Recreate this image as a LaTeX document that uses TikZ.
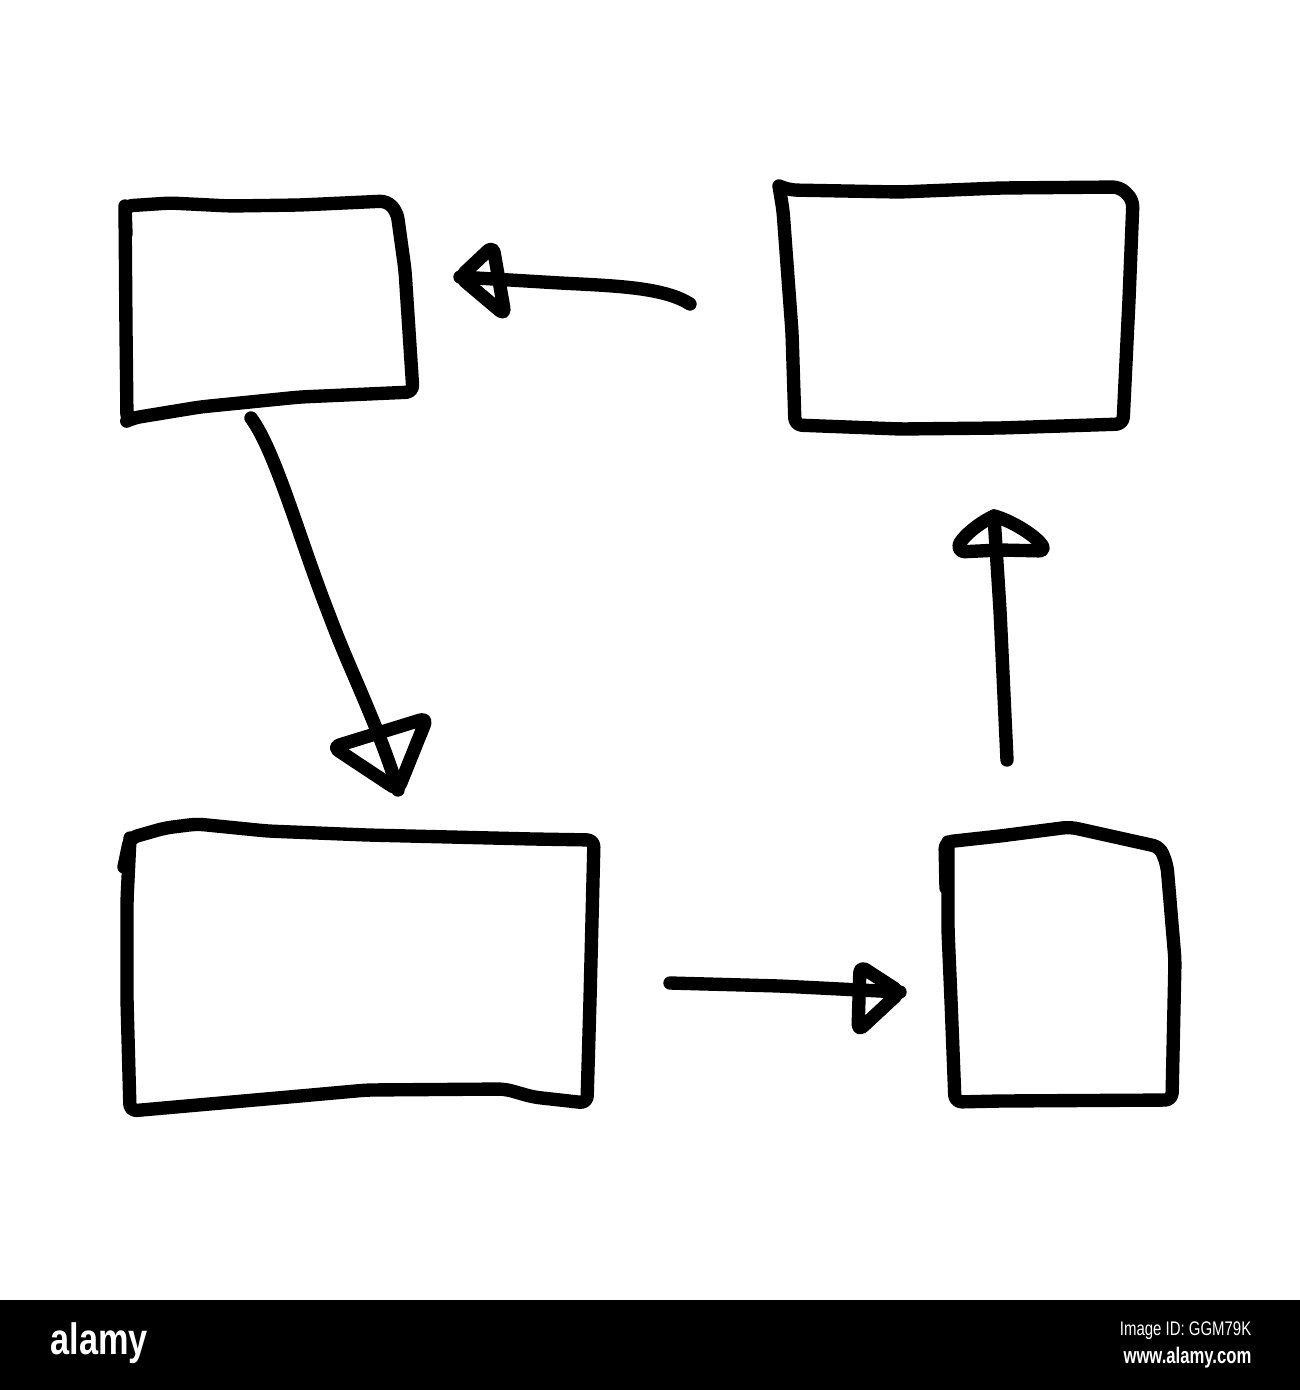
\documentclass[tikz,border=0pt]{standalone}
\usepackage{fontspec}
\newfontfamily\logofont{Liberation Sans}
\usepackage{tikz}
\usetikzlibrary{calc}

\begin{document}
\begin{tikzpicture}[x=0.01cm, y=-0.01cm,
    sketch/.style={line width=3.8pt, line cap=round, line join=round, rounded corners=2pt},
    tag/.style={white, inner sep=0pt, anchor=east}]
    \useasboundingbox (0, 0) rectangle (1300, 1390);

    % boxes
    \draw[sketch] (126, 234) -- (125, 206) -- (170, 203) -- (230, 206) -- (300, 205) -- (387, 201) -- (397, 212) -- (405, 270) -- (413, 392) -- (300, 397) -- (200, 407) -- (133, 418) -- (127, 421) -- (126, 330) -- (125, 206);
    \draw[sketch] (779, 186) -- (790, 190) -- (900, 192) -- (1000, 188) -- (1120, 187) -- (1133, 200) -- (1129, 300) -- (1123, 424) -- (1000, 428) -- (900, 429) -- (795, 425) -- (792, 332) -- (783, 210) -- (779, 186);
    \draw[sketch] (124, 867) -- (130, 838) -- (165, 828) -- (197, 824) -- (267, 831) -- (367, 835) -- (533, 839) -- (594, 840) -- (590, 1000) -- (587, 1103) -- (533, 1097) -- (505, 1089) -- (367, 1090) -- (300, 1096) -- (130, 1111) -- (127, 1000) -- (127, 900) -- (130, 838);
    \draw[sketch] (946, 888) -- (945, 842) -- (1000, 836) -- (1070, 827) -- (1160, 847) -- (1167, 865) -- (1175, 960) -- (1172, 1100) -- (1000, 1101) -- (955, 1102) -- (951, 1000) -- (948, 930) -- (948, 842);

    % arrow ends
    \coordinate (trOut) at (690, 304);
    \coordinate (tlIn) at (460, 277);
    \coordinate (tlOut) at (251, 418);
    \coordinate (blIn) at (398, 790);
    \coordinate (blOut) at (670, 983);
    \coordinate (brIn) at (900, 992);
    \coordinate (brOut) at (1007, 760);
    \coordinate (trIn) at (994, 516);

    % arrows
    \draw[sketch] (trOut) .. controls (665, 288) and (620, 286) .. (560, 283) -- (tlIn);
    \draw[sketch] (tlIn) -- (493, 246) -- (505, 315) -- cycle;

    \draw[sketch] (tlOut) .. controls (275, 450) and (300, 540) .. (330, 617) .. controls (350, 670) and (380, 730) .. (blIn);
    \draw[sketch] (blIn) -- (333, 747) -- (427, 718) -- cycle;

    \draw[sketch] (blOut) -- (780, 986) -- (brIn);
    \draw[sketch] (brIn) -- (860, 966) -- (858, 1031) -- cycle;

    \draw[sketch] (brOut) -- (1000, 610) -- (trIn);
    \draw[sketch] (trIn) .. controls (975, 525) and (960, 540) .. (958, 552) -- (1000, 550) -- (1046, 551) .. controls (1035, 535) and (1010, 520) .. (trIn);

    % stock bar
    \fill (0, 1300) rectangle (1300, 1390);
    \node[tag, anchor=west] (logo) at (50, 1343) {\logofont\bfseries\fontsize{12.5}{12}\selectfont\scalebox{0.78}[1]{alamy}};
    \node[tag] (imgid) at (1252, 1331) {\logofont\fontsize{5.6}{6}\selectfont\scalebox{0.76}[1]{Image ID: GGM79K}};
    \node[tag] (site) at (1252, 1358) {\logofont\bfseries\fontsize{6.4}{7}\selectfont\scalebox{0.74}[1]{www.alamy.com}};
\end{tikzpicture}
\end{document}
